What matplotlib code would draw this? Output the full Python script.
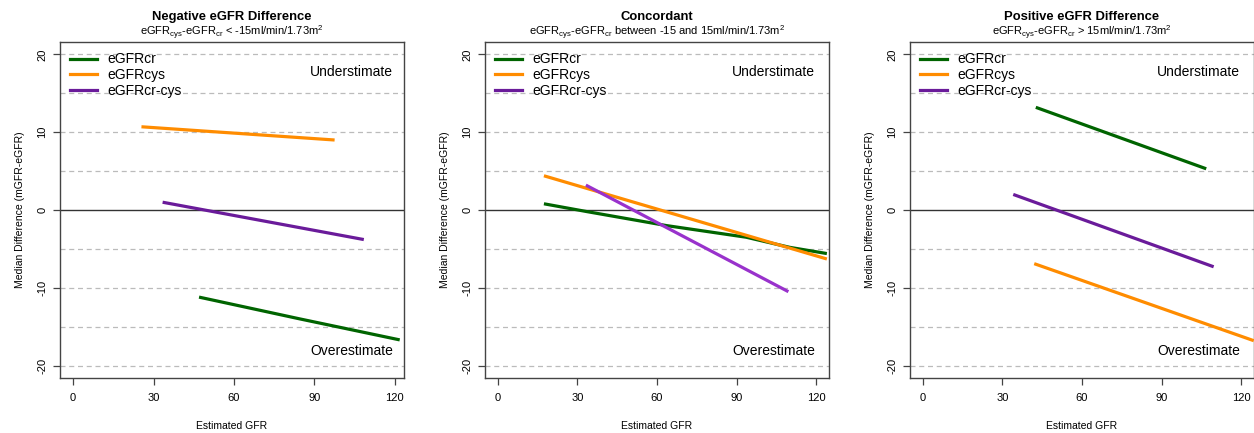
import numpy as np
import matplotlib
matplotlib.use("Agg")
import matplotlib.pyplot as plt

plt.rcParams['font.family'] = ['Liberation Sans', 'DejaVu Sans']
plt.rcParams['mathtext.fontset'] = 'custom'
plt.rcParams['mathtext.rm'] = 'Liberation Sans'
plt.rcParams['axes.unicode_minus'] = False

# Panel titles
titles = ["Negative eGFR Difference", "Concordant", "Positive eGFR Difference"]
subtitles = [r"eGFR$_{\mathrm{cys}}$-eGFR$_{\mathrm{cr}}$ < -15ml/min/1.73m$^{2}$",
             r"eGFR$_{\mathrm{cys}}$-eGFR$_{\mathrm{cr}}$ between -15 and 15ml/min/1.73m$^{2}$",
             r"eGFR$_{\mathrm{cys}}$-eGFR$_{\mathrm{cr}}$ > 15ml/min/1.73m$^{2}$"]
series_names = ["eGFRcr", "eGFRcys", "eGFRcr-cys"]

# Panel 1: negative difference
neg_cr_x = [47.0, 84.6, 121.9]
neg_cr_y = [-11.2, -14.0, -16.7]
neg_cys_x = [25.5, 97.6]
neg_cys_y = [10.7, 9.0]
neg_crcys_x = [33.4, 108.5]
neg_crcys_y = [1.0, -3.8]

# Panel 2: concordant
con_cr_x = [17.4, 33.5, 63.5, 93.6, 110.0, 124.0]
con_cr_y = [0.8, -0.2, -2.0, -3.5, -4.8, -5.6]
con_cys_x = [17.4, 124.0]
con_cys_y = [4.4, -6.3]
con_crcys_x = [33.2, 109.5]
con_crcys_y = [3.2, -10.5]

# Panel 3: positive difference
pos_cr_x = [42.6, 106.8]
pos_cr_y = [13.2, 5.3]
pos_cys_x = [42.0, 124.7]
pos_cys_y = [-6.9, -16.8]
pos_crcys_x = [34.1, 109.6]
pos_crcys_y = [2.0, -7.3]

panels = [
    [(neg_cr_x, neg_cr_y), (neg_cys_x, neg_cys_y), (neg_crcys_x, neg_crcys_y)],
    [(con_cr_x, con_cr_y), (con_cys_x, con_cys_y), (con_crcys_x, con_crcys_y)],
    [(pos_cr_x, pos_cr_y), (pos_cys_x, pos_cys_y), (pos_crcys_x, pos_crcys_y)],
]

green = "#006400"
orange = "#FF8C00"
purple = "#6A1B9A"
purple_bright = "#9932CC"

xlims = [(-4.9, 123.5), (-4.8, 124.8), (-4.8, 124.8)]
lefts = [60, 485, 910]

W, H = 1254, 433
fig = plt.figure(figsize=(W / 100, H / 100), dpi=100)

for i in range(3):
    ax = fig.add_axes([lefts[i] / W, (H - 378) / H, 344 / W, 336 / H])
    ax.set_xlim(*xlims[i])
    ax.set_ylim(-21.6, 21.6)

    for yv in [-20, -15, -10, -5, 5, 10, 15, 20]:
        ax.axhline(yv, color="#BBBBBB", linestyle=(0, (4, 3)), linewidth=0.9, zorder=1)
    ax.axhline(0, color="#333333", linewidth=1.0, zorder=1)

    cols = [green, orange, purple_bright if i == 1 else purple]
    for (xs, ys), c in zip(panels[i], cols):
        ax.plot(xs, ys, color=c, linewidth=2.3, solid_capstyle='butt', zorder=3)

    handles = [plt.Line2D([], [], color=c, linewidth=2.3) for c in [green, orange, purple]]
    ax.legend(handles, series_names, loc="upper left", frameon=False, fontsize=10,
              handlelength=1.9, handletextpad=0.75, labelspacing=0.12,
              borderaxespad=0.4, borderpad=0.35)

    ax.text(119.5, 17.8, "Understimate", ha="right", va="center", fontsize=10)
    ax.text(119.5, -18.1, "Overestimate", ha="right", va="center", fontsize=10)

    ax.set_xticks([0, 30, 60, 90, 120])
    ax.set_yticks([-20, -10, 0, 10, 20])
    ax.tick_params(axis="both", length=5, width=0.9, color="#444444", labelsize=8, pad=6)
    ax.tick_params(axis="y", pad=4)
    for lab in ax.get_yticklabels():
        lab.set_rotation(90)
        lab.set_va("center")
    for sp in ax.spines.values():
        sp.set_color("#444444")
        sp.set_linewidth(1.0)

    ax.set_xlabel("Estimated GFR", fontsize=7.5, labelpad=13)
    ax.set_ylabel("Median Difference (mGFR-eGFR)", fontsize=7.5, labelpad=9)

    ax.text(0.5, 1.075, titles[i], transform=ax.transAxes, ha="center", va="center",
            fontsize=9.4, fontweight="bold")
    ax.text(0.5, 1.027, subtitles[i], transform=ax.transAxes, ha="center", va="center",
            fontsize=8)

fig.savefig("out.png", dpi=100)
